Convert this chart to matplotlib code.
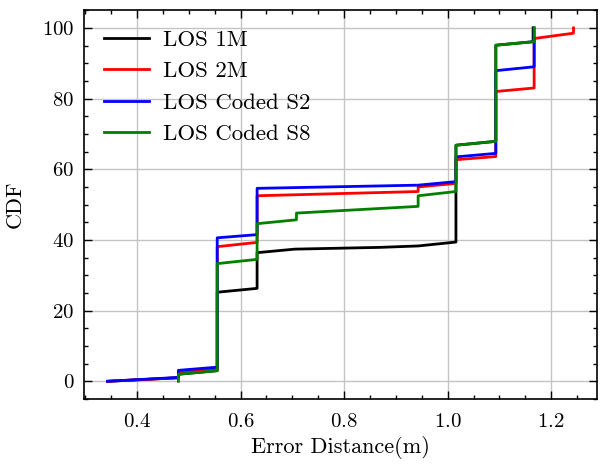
import matplotlib
matplotlib.use("Agg")
import matplotlib.pyplot as plt
from matplotlib.ticker import MultipleLocator

plt.rcParams['font.family'] = 'serif'
plt.rcParams['font.serif'] = ['cmr10']
plt.rcParams['mathtext.fontset'] = 'cm'
plt.rcParams['axes.formatter.use_mathtext'] = True

# LOS 1M
x_1m = [0.343, 0.48, 0.48, 0.555, 0.555, 0.632, 0.632, 0.705, 0.87, 0.943, 1.016, 1.016, 1.093, 1.093, 1.165, 1.165]
y_1m = [0.0, 1.0, 2.0, 3.0, 25.2, 26.3, 36.4, 37.4, 37.9, 38.3, 39.4, 66.8, 67.9, 95.1, 96.1, 100.0]
# LOS 2M
x_2m = [0.343, 0.48, 0.48, 0.555, 0.555, 0.632, 0.632, 0.943, 0.943, 1.016, 1.016, 1.093, 1.093, 1.167, 1.167, 1.243, 1.243]
y_2m = [0.0, 1.0, 2.5, 3.5, 38.1, 39.3, 52.5, 53.7, 55.0, 56.0, 62.7, 63.6, 82.0, 83.0, 97.0, 98.5, 100.0]
# LOS Coded S2
x_s2 = [0.343, 0.48, 0.48, 0.555, 0.555, 0.632, 0.632, 0.943, 1.016, 1.016, 1.093, 1.093, 1.167, 1.167]
y_s2 = [0.0, 1.1, 3.1, 4.0, 40.6, 41.5, 54.6, 55.5, 56.5, 63.5, 64.5, 87.9, 89.0, 100.0]
# LOS Coded S8
x_s8 = [0.48, 0.48, 0.555, 0.555, 0.632, 0.632, 0.708, 0.708, 0.943, 0.943, 1.016, 1.016, 1.093, 1.093, 1.167, 1.167]
y_s8 = [0.0, 2.0, 3.0, 33.3, 34.5, 44.6, 45.7, 47.6, 49.5, 52.5, 53.7, 66.8, 67.9, 95.1, 96.1, 100.0]

series = [
    ("LOS 1M", x_1m, y_1m, "black"),
    ("LOS 2M", x_2m, y_2m, "red"),
    ("LOS Coded S2", x_s2, y_s2, "blue"),
    ("LOS Coded S8", x_s8, y_s8, "green"),
]

fig = plt.figure(figsize=(6.01, 4.65), dpi=100)
ax = fig.add_axes([0.14, 0.142, 0.853, 0.836])
for label, xs, ys, c in series:
    ax.plot(xs, ys, color=c, lw=2.0, label=label)

ax.set_xlim(0.298, 1.288)
ax.set_ylim(-5, 105)
ax.xaxis.set_major_locator(MultipleLocator(0.2))
ax.xaxis.set_minor_locator(MultipleLocator(0.05))
ax.yaxis.set_major_locator(MultipleLocator(20))
ax.yaxis.set_minor_locator(MultipleLocator(5))
ax.tick_params(which='both', direction='in', top=True, right=True, labelsize=15)
ax.tick_params(which='major', length=6, width=1)
ax.tick_params(axis='x', which='major', pad=10)
ax.tick_params(axis='y', which='major', pad=7)
ax.tick_params(which='minor', length=3, width=1)
for s in ax.spines.values():
    s.set_linewidth(1.2)
ax.grid(True, which='major', color='#c4c4c4', lw=1)
ax.set_axisbelow(True)
ax.set_xlabel("Error Distance(m)", fontsize=16)
ax.set_ylabel("CDF", fontsize=16)
ax.yaxis.set_label_coords(-0.115, 0.5)
ax.legend(loc='upper left', frameon=False, fontsize=16.5, handlelength=2.0,
          handletextpad=0.6, borderaxespad=0.45, labelspacing=0.5)

fig.savefig("out.png", dpi=100)
